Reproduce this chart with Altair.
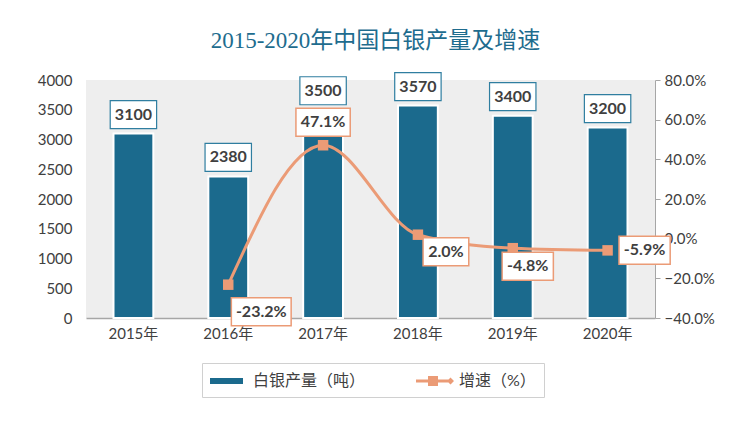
import altair as alt
import pandas as pd

years = ["2015年", "2016年", "2017年", "2018年", "2019年", "2020年"]
production = [3100, 2380, 3500, 3570, 3400, 3200]
growth_pct = [None, -23.2, 47.1, 2.0, -4.8, -5.9]
series_names = ["白银产量（吨）", "增速（%）"]

BLUE = "#1b6a8d"
ORANGE = "#eb9b76"
TXT = "#404040"
FONT = "Lato, 'Noto Sans CJK SC'"

# label placement for each growth label (mark offsets in px)
growth_label_place = {"2016年": (33, 27), "2017年": (0, -23), "2018年": (28, 17),
                      "2019年": (15, 18), "2020年": (37, 0)}


def box_width(s):
    w = 12
    for ch in s:
        if ch.isdigit():
            w += 8.6
        elif ch == ".":
            w += 4
        elif ch == "%":
            w += 12.5
        elif ch == "-":
            w += 5.5
    return w


def box_path(w, h):
    r = h / w
    return f"M-1,{-r:.4f}H1V{r:.4f}H-1Z"


df = pd.DataFrame({"year": years, "prod": production})
df["plabel"] = df["prod"].astype(str)

glabels = {y: f"{v:.1f}%" for y, v in zip(years, growth_pct) if v is not None}
gdf = pd.DataFrame({"year": years[1:], "g": [v / 100 for v in growth_pct[1:]]})
gdf["glabel"] = [glabels[y] for y in years[1:]]
gdf["series"] = series_names[1]

xenc = alt.X("year:N", sort=years, title=None,
             scale=alt.Scale(paddingInner=0.58, paddingOuter=0.29),
             axis=alt.Axis(labelAngle=0, labelFontSize=15, labelColor=TXT, labelFont=FONT,
                           ticks=False, domainColor="#a6a6a6", domainWidth=1.5, labelPadding=8))

yleft = alt.Y("prod:Q", title=None,
              scale=alt.Scale(domain=[0, 4000], nice=False),
              axis=alt.Axis(values=list(range(0, 4001, 500)), format="d", grid=False, domain=False,
                            ticks=False, labelOverlap=False, labelFlush=False,
                            labelFontSize=15, labelColor=TXT, labelFont=FONT, labelPadding=14))

pw = box_width("3100")
base = alt.Chart(df)
bars = base.mark_bar(color=BLUE, stroke="white", strokeWidth=2).encode(x=xenc, y=yleft)
pboxes = base.mark_point(filled=False, fill="white", stroke="#2f7ea0", strokeWidth=1.2,
                         opacity=1, yOffset=-19, shape=box_path(pw, 28), size=pw ** 2).encode(
    x=xenc, y=yleft)
ptext = base.mark_text(yOffset=-19, fontSize=16, fontWeight="bold", color=TXT, font=FONT,
                       baseline="middle").encode(
    x=xenc, y=yleft, text="plabel:N")
left = alt.layer(bars, pboxes, ptext)

yright = alt.Y("g:Q", title=None,
               scale=alt.Scale(domain=[-0.4, 0.8], nice=False),
               axis=alt.Axis(orient="right", values=[-0.4, -0.2, 0, 0.2, 0.4, 0.6, 0.8], format=".1%",
                             grid=False, domainColor="#a6a6a6", tickColor="#a6a6a6", tickSize=5,
                             labelOverlap=False, labelFlush=False,
                             labelFontSize=15, labelColor=TXT, labelFont=FONT, labelPadding=4))

gbase = alt.Chart(gdf)
line = gbase.mark_line(color=ORANGE, strokeWidth=3, interpolate="monotone").encode(
    x=xenc, y=yright)
marks = gbase.mark_point(shape="square", filled=True, color=ORANGE, size=110, opacity=1).encode(
    x=xenc, y=yright)

# legend carrier: tiny points hidden under the square markers
legend_layer = gbase.mark_point(filled=True, size=1, opacity=1).encode(
    x=xenc, y=yright,
    color=alt.Color("series:N", scale=alt.Scale(domain=series_names, range=[BLUE, ORANGE]),
                    legend=alt.Legend(title=None, orient="none", legendX=116, legendY=283,
                                      direction="horizontal",
                                      labelFontSize=16, labelColor=TXT, labelFont=FONT,
                                      symbolSize=400, symbolStrokeWidth=0, symbolOpacity=1,
                                      strokeColor="#d0d0d0", padding=8, columnPadding=50,
                                      labelOffset=23)),
    shape=alt.Shape("series:N", scale=alt.Scale(
        domain=series_names,
        range=["M-1,-0.3H2.3V0.3H-1Z",
               "M-1,-0.15H2.4V0.15H-1Z M0.2,-0.5H1.2V0.5H0.2Z M2.1,0L2.45,-0.35L2.8,0L2.45,0.35Z"]))
)

glayers = [line, legend_layer, marks]
for yr, (dx, dy) in growth_label_place.items():
    sub = gbase.transform_filter(alt.datum.year == yr)
    w = box_width(glabels[yr])
    glayers.append(sub.mark_point(filled=False, fill="white", stroke=ORANGE, strokeWidth=1.5,
                                  opacity=1, xOffset=dx, yOffset=dy,
                                  shape=box_path(w, 28), size=w ** 2).encode(
        x=xenc, y=yright))
    glayers.append(sub.mark_text(xOffset=dx, yOffset=dy, fontSize=16, fontWeight="bold", color=TXT,
                                 font=FONT, baseline="middle").encode(
        x=xenc, y=yright, text="glabel:N"))
right = alt.layer(*glayers)

chart = alt.layer(left, right).resolve_scale(y="independent").properties(
    width=569, height=238,
    autosize=alt.AutoSizeParams(type="none"),
    padding={"left": 78, "top": 72, "right": 80, "bottom": 90},
    background="white",
    title=alt.TitleParams("2015-2020年中国白银产量及增速", font="'Liberation Serif', 'Noto Sans CJK SC'",
                          fontSize=23, fontWeight="normal", color="#1e6c8e", anchor="middle",
                          offset=17, dx=5),
).configure_view(fill="#eeeeee", stroke=None)

chart.save("out.html", embed_options={"renderer": "svg", "actions": False})
